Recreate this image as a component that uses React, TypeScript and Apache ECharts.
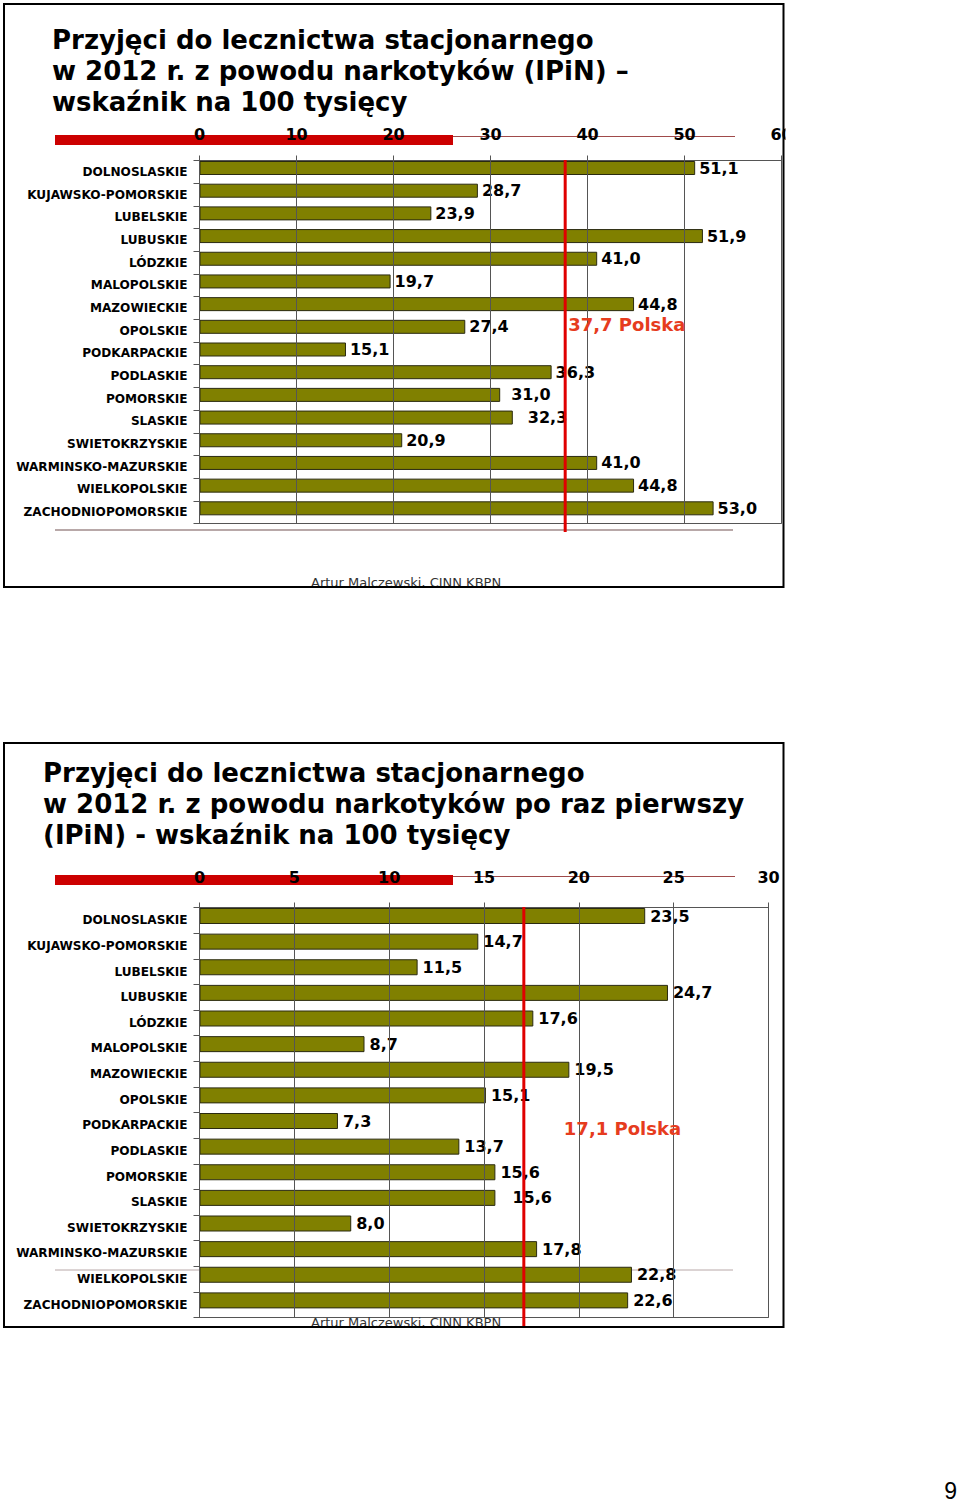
import React, { useEffect, useRef } from "react";
import * as echarts from "echarts";

const regions = [
  "DOLNOSLASKIE",
  "KUJAWSKO-POMORSKIE",
  "LUBELSKIE",
  "LUBUSKIE",
  "LÓDZKIE",
  "MALOPOLSKIE",
  "MAZOWIECKIE",
  "OPOLSKIE",
  "PODKARPACKIE",
  "PODLASKIE",
  "POMORSKIE",
  "SLASKIE",
  "SWIETOKRZYSKIE",
  "WARMINSKO-MAZURSKIE",
  "WIELKOPOLSKIE",
  "ZACHODNIOPOMORSKIE",
];
const allAdmissions = [51.1, 28.7, 23.9, 51.9, 41.0, 19.7, 44.8, 27.4, 15.1, 36.3, 31.0, 32.3, 20.9, 41.0, 44.8, 53.0];
const firstAdmissions = [23.5, 14.7, 11.5, 24.7, 17.6, 8.7, 19.5, 15.1, 7.3, 13.7, 15.6, 15.6, 8.0, 17.8, 22.8, 22.6];
const polskaAll = 37.7;
const polskaFirst = 17.1;
const axisAll = [0, 60, 10];
const axisFirst = [0, 30, 5];
const title1 = "Przyjęci do lecznictwa stacjonarnego\nw 2012 r. z powodu narkotyków (IPiN) –\nwskaźnik na 100 tysięcy";
const title2 = "Przyjęci do lecznictwa stacjonarnego\nw 2012 r. z powodu narkotyków po raz pierwszy\n(IPiN) - wskaźnik na 100 tysięcy";
const footer = "Artur Malczewski, CINN KBPN";
const pageNumber = "9";

const FONT = "'DejaVu Sans', Verdana, sans-serif";
const fmt = (v: number) => v.toFixed(1).replace(".", ",");

type Cfg = {
  left: number;
  top: number;
  width: number;
  height: number;
  barWidth: number;
  labelMargin: number;
  labelDistance: number;
  axis: number[];
  values: number[];
  shifts: Record<number, number>;
};

function buildChart(cfg: Cfg, gi: number) {
  const band = cfg.height / regions.length;
  const barCenter = cfg.top + 0.5 + cfg.barWidth / 2;
  const barGridTop = barCenter - band / 2;
  const grids = [
    {
      left: cfg.left,
      top: cfg.top,
      width: cfg.width,
      height: cfg.height,
      show: true,
      borderColor: "#555",
      borderWidth: 1,
      backgroundColor: "transparent",
      containLabel: false,
      outerBoundsMode: "none",
    },
    {
      left: cfg.left,
      top: barGridTop,
      width: cfg.width,
      height: cfg.height,
      show: false,
      containLabel: false,
      outerBoundsMode: "none",
    },
  ];
  const xAxes = [
    {
      gridIndex: gi,
      type: "value",
      position: "top",
      min: cfg.axis[0],
      max: cfg.axis[1],
      interval: cfg.axis[2],
      z: 5,
      axisLine: { show: true, lineStyle: { color: "#555", width: 1 } },
      axisTick: { show: true, length: 5, lineStyle: { color: "#555" } },
      splitLine: { show: true, lineStyle: { color: "#555", width: 1 } },
      axisLabel: {
        show: true,
        margin: cfg.labelMargin,
        fontFamily: FONT,
        fontWeight: "bold",
        fontSize: 16,
        color: "#000",
      },
    },
    {
      gridIndex: gi + 1,
      type: "value",
      min: cfg.axis[0],
      max: cfg.axis[1],
      interval: cfg.axis[2],
      show: false,
      splitLine: { show: false },
    },
  ];
  const yAxes = [
    {
      gridIndex: gi,
      type: "category",
      inverse: true,
      data: regions,
      axisLine: { show: true, lineStyle: { color: "#555" } },
      axisTick: { show: true, length: 6, lineStyle: { color: "#555" } },
      axisLabel: {
        margin: 12,
        fontFamily: FONT,
        fontWeight: "bold",
        fontSize: 12.1,
        color: "#000",
      },
    },
    {
      gridIndex: gi + 1,
      type: "category",
      inverse: true,
      data: regions,
      show: false,
    },
  ];
  const series = [
    {
      type: "bar",
      xAxisIndex: gi + 1,
      yAxisIndex: gi + 1,
      barWidth: cfg.barWidth,
      z: 3,
      itemStyle: { color: "#808000", borderColor: "#2a2a10", borderWidth: 1 },
      label: {
        show: true,
        position: "right",
        distance: cfg.labelDistance,
        fontFamily: FONT,
        fontWeight: "bold",
        fontSize: 16,
        color: "#000",
        formatter: (p: any) => fmt(p.value),
      },
      data: cfg.values.map((v, i) =>
        cfg.shifts[i] ? { value: v, label: { offset: [cfg.shifts[i], 0] } } : v
      ),
    },
  ];
  return { grids, xAxes, yAxes, series };
}

export default function App() {
  const ref = useRef<HTMLDivElement>(null);
  useEffect(() => {
    if (!ref.current) return;
    const chart = echarts.init(ref.current, null, { renderer: "svg" });
    const topCfg: Cfg = {
      left: 199.5,
      top: 160.5,
      width: 582,
      height: 363,
      barWidth: 14,
      labelMargin: 18,
      labelDistance: 4,
      axis: axisAll,
      values: allAdmissions,
      shifts: { 10: 7, 11: 11 },
    };
    const botCfg: Cfg = {
      left: 199.5,
      top: 907.5,
      width: 569,
      height: 410,
      barWidth: 16,
      labelMargin: 22,
      labelDistance: 5,
      axis: axisFirst,
      values: firstAdmissions,
      shifts: { 11: 12 },
    };
    const a = buildChart(topCfg, 0);
    const b = buildChart(botCfg, 2);
    const titleStyle = {
      fontFamily: FONT,
      fontWeight: "bold",
      fontSize: 26,
      lineHeight: 31,
      color: "#000",
    };
    chart.setOption({
      animation: false,
      backgroundColor: "#fff",
      title: [
        { text: title1, left: 52, top: 24, padding: 0, textStyle: titleStyle },
        { text: title2, left: 43, top: 757, padding: 0, textStyle: titleStyle },
      ],
      grid: [...a.grids, ...b.grids],
      xAxis: [...a.xAxes, ...b.xAxes],
      yAxis: [...a.yAxes, ...b.yAxes],
      series: [...a.series, ...b.series],
    });

    const xTop = chart.convertToPixel({ xAxisIndex: 0 }, polskaAll) as number;
    const xBot = chart.convertToPixel({ xAxisIndex: 2 }, polskaFirst) as number;

    const deco = (redTop: number, thinY: number, grayY: number, grayZ: number) => [
      { type: "rect", shape: { x: 55, y: redTop, width: 398, height: 10 }, style: { fill: "#cc0000" }, z: 1 },
      { type: "line", shape: { x1: 453, y1: thinY, x2: 735, y2: thinY }, style: { stroke: "#a04a4a", lineWidth: 1 }, z: 1 },
      { type: "line", shape: { x1: 55, y1: grayY, x2: 733, y2: grayY }, style: { stroke: "#b8a8a8", lineWidth: grayZ > 1 ? 2 : 1 }, z: grayZ },
    ];

    chart.setOption({
      graphic: [
        ...deco(135, 136.5, 530, 2),
        ...deco(875, 876.5, 1270, 1),
        {
          type: "line",
          shape: { x1: xTop, y1: 160, x2: xTop, y2: 532 },
          style: { stroke: "#e00000", lineWidth: 3 },
          z: 100,
        },
        {
          type: "text",
          x: xTop + 3,
          y: 324,
          style: {
            text: fmt(polskaAll) + " Polska",
            fill: "#e63c1e",
            font: "bold 18px " + FONT,
            verticalAlign: "middle",
            align: "left",
          },
          z: 101,
        },
        {
          type: "line",
          shape: { x1: xBot, y1: 907, x2: xBot, y2: 1327 },
          style: { stroke: "#e00000", lineWidth: 3 },
          z: 100,
        },
        {
          type: "text",
          x: xBot + 40,
          y: 1128,
          style: {
            text: fmt(polskaFirst) + " Polska",
            fill: "#e63c1e",
            font: "bold 18px " + FONT,
            verticalAlign: "middle",
            align: "left",
          },
          z: 101,
        },
        {
          type: "text",
          x: 311,
          y: 582,
          style: { text: footer, fill: "#333", font: "13px " + FONT, verticalAlign: "middle" },
          z: 40,
        },
        {
          type: "text",
          x: 311,
          y: 1322,
          style: { text: footer, fill: "#333", font: "13px " + FONT, verticalAlign: "middle" },
          z: 40,
        },
        {
          type: "rect",
          shape: { x: 785.5, y: 90, width: 175, height: 80 },
          style: { fill: "#fff" },
          z: 150,
        },
        {
          type: "rect",
          shape: { x: 4, y: 4, width: 779.5, height: 583 },
          style: { fill: "none", stroke: "#000", lineWidth: 2 },
          z: 200,
        },
        {
          type: "rect",
          shape: { x: 4, y: 743, width: 779.5, height: 584 },
          style: { fill: "none", stroke: "#000", lineWidth: 2 },
          z: 200,
        },
        {
          type: "text",
          x: 957,
          y: 1491,
          style: {
            text: pageNumber,
            fill: "#000",
            font: "23px 'Liberation Sans', Arial, sans-serif",
            align: "right",
            verticalAlign: "middle",
          },
          z: 10,
        },
      ],
    });
    return () => chart.dispose();
  }, []);
  return (
    <div
      ref={ref}
      style={{ position: "absolute", left: 0, top: 0, width: 960, height: 1503, background: "#fff" }}
    />
  );
}
